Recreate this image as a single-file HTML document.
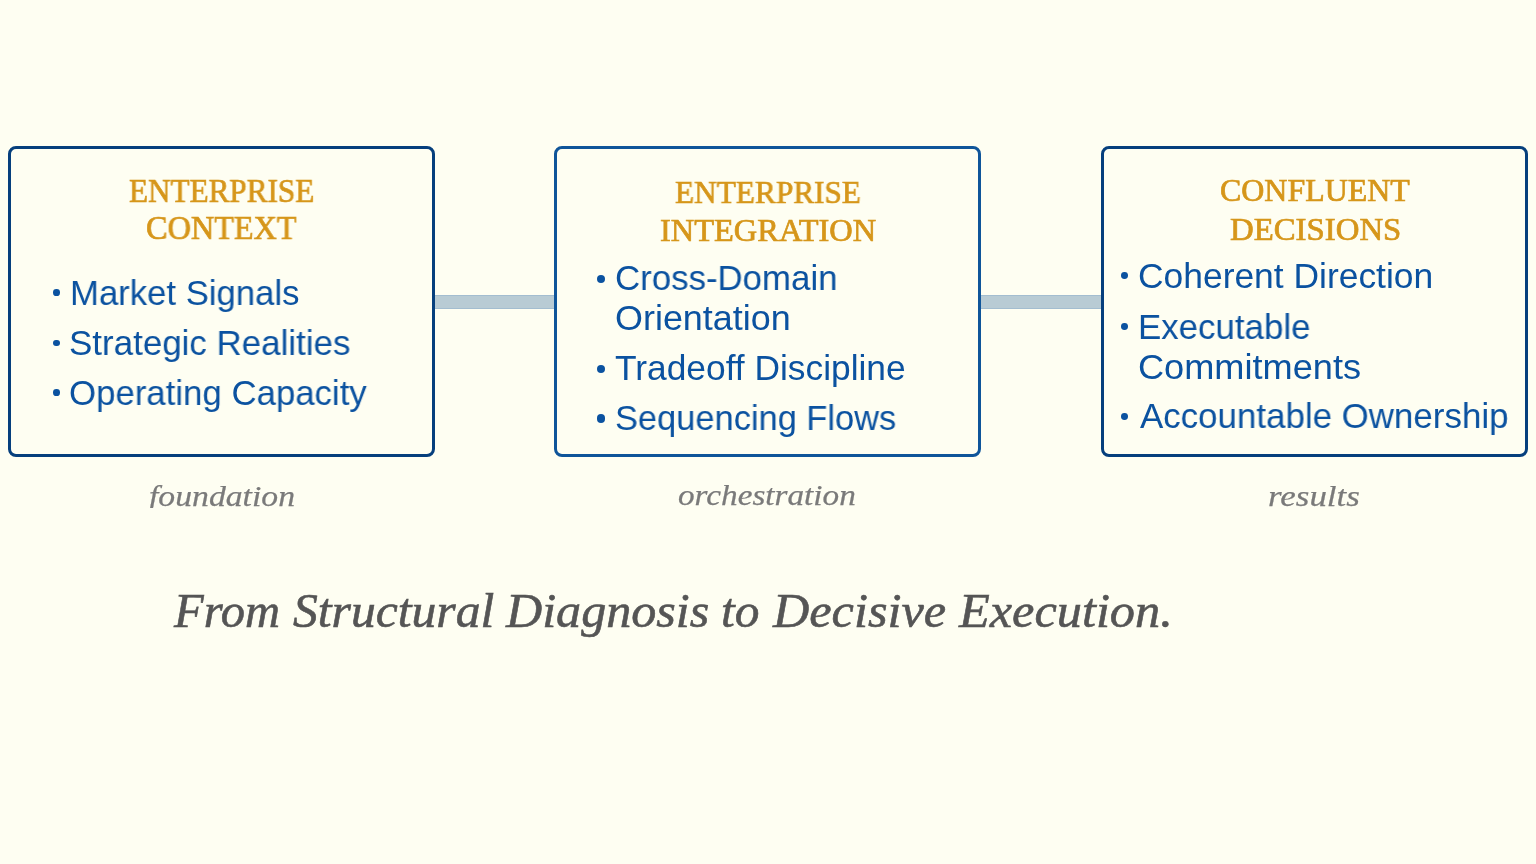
<!DOCTYPE html>
<html><head><meta charset="utf-8"><title>Enterprise Flow</title><style>
html,body{margin:0;padding:0;}
body{width:1536px;height:864px;background:#fefef2;position:relative;overflow:hidden;}
.box{position:absolute;top:146px;width:420.67px;height:305px;border:3px solid #063f7d;border-radius:8px;box-sizing:content-box;}
.b2{border-color:#0f559a;}
.bar{position:absolute;top:295px;height:12px;background:#b8cbd4;border-top:1px solid #a3bdd0;border-bottom:1px solid #a3bdd0;}
.dot{position:absolute;border-radius:50%;background:#0b52a0;}
.t{position:absolute;white-space:nowrap;transform-origin:0 0;margin:0;padding:0;will-change:transform;}
</style></head>
<body>
<div class="bar" style="left:435px;width:119px"></div>
<div class="bar" style="left:981px;width:120px"></div>
<div class="box" style="left:8px"></div>
<div class="box b2" style="left:554.33px"></div>
<div class="box" style="left:1101px"></div>
<div class="dot" style="left:53.15px;top:289.35px;width:6.7px;height:6.7px"></div>
<div class="dot" style="left:53.15px;top:339.65px;width:6.7px;height:6.7px"></div>
<div class="dot" style="left:53.15px;top:389.35px;width:6.7px;height:6.7px"></div>
<div class="dot" style="left:597.05px;top:274.85px;width:8.3px;height:8.3px"></div>
<div class="dot" style="left:597.05px;top:364.85px;width:8.3px;height:8.3px"></div>
<div class="dot" style="left:597.05px;top:414.45px;width:8.3px;height:8.3px"></div>
<div class="dot" style="left:1121.30px;top:272.40px;width:6.8px;height:6.8px"></div>
<div class="dot" style="left:1121.30px;top:323.30px;width:6.8px;height:6.8px"></div>
<div class="dot" style="left:1121.30px;top:412.80px;width:6.8px;height:6.8px"></div>
<div class="t" style="left:128.98px;top:170.84px;font-family:'Liberation Serif', serif;font-weight:normal;font-style:normal;font-size:33.18px;line-height:39.818px;color:#d6961a;transform:scaleX(0.9394);-webkit-text-stroke:0.7px #d6961a;">ENTERPRISE</div>
<div class="t" style="left:146.23px;top:209.32px;font-family:'Liberation Serif', serif;font-weight:normal;font-style:normal;font-size:32.88px;line-height:39.455px;color:#d6961a;transform:scaleX(0.9821);-webkit-text-stroke:0.7px #d6961a;">CONTEXT</div>
<div class="t" style="left:674.97px;top:173.45px;font-family:'Liberation Serif', serif;font-weight:normal;font-style:normal;font-size:32.42px;line-height:38.909px;color:#d6961a;transform:scaleX(0.9656);-webkit-text-stroke:0.7px #d6961a;">ENTERPRISE</div>
<div class="t" style="left:659.83px;top:212.20px;font-family:'Liberation Serif', serif;font-weight:normal;font-style:normal;font-size:31.94px;line-height:38.328px;color:#d6961a;transform:scaleX(1.0154);-webkit-text-stroke:0.7px #d6961a;">INTEGRATION</div>
<div class="t" style="left:1219.74px;top:171.81px;font-family:'Liberation Serif', serif;font-weight:normal;font-style:normal;font-size:31.82px;line-height:38.182px;color:#d6961a;transform:scaleX(1.0035);-webkit-text-stroke:0.7px #d6961a;">CONFLUENT</div>
<div class="t" style="left:1229.64px;top:209.83px;font-family:'Liberation Serif', serif;font-weight:normal;font-style:normal;font-size:32.12px;line-height:38.545px;color:#d6961a;transform:scaleX(1.0216);-webkit-text-stroke:0.7px #d6961a;">DECISIONS</div>
<div class="t" style="left:69.82px;top:272.35px;font-family:'Liberation Sans', sans-serif;font-weight:normal;font-style:normal;font-size:35.00px;line-height:42.000px;color:#0b52a0;transform:scaleX(0.9912);-webkit-text-stroke:0.0px #0b52a0;">Market Signals</div>
<div class="t" style="left:69.25px;top:322.15px;font-family:'Liberation Sans', sans-serif;font-weight:normal;font-style:normal;font-size:35.00px;line-height:42.000px;color:#0b52a0;transform:scaleX(0.9980);-webkit-text-stroke:0.0px #0b52a0;">Strategic Realities</div>
<div class="t" style="left:69.26px;top:371.95px;font-family:'Liberation Sans', sans-serif;font-weight:normal;font-style:normal;font-size:35.00px;line-height:42.000px;color:#0b52a0;transform:scaleX(0.9938);-webkit-text-stroke:0.0px #0b52a0;">Operating Capacity</div>
<div class="t" style="left:615.26px;top:257.35px;font-family:'Liberation Sans', sans-serif;font-weight:normal;font-style:normal;font-size:35.00px;line-height:42.000px;color:#0b52a0;transform:scaleX(0.9945);-webkit-text-stroke:0.0px #0b52a0;">Cross-Domain</div>
<div class="t" style="left:615.20px;top:296.55px;font-family:'Liberation Sans', sans-serif;font-weight:normal;font-style:normal;font-size:35.00px;line-height:42.000px;color:#0b52a0;transform:scaleX(1.0263);-webkit-text-stroke:0.0px #0b52a0;">Orientation</div>
<div class="t" style="left:615.29px;top:347.35px;font-family:'Liberation Sans', sans-serif;font-weight:normal;font-style:normal;font-size:35.00px;line-height:42.000px;color:#0b52a0;transform:scaleX(1.0095);-webkit-text-stroke:0.0px #0b52a0;">Tradeoff Discipline</div>
<div class="t" style="left:615.28px;top:397.05px;font-family:'Liberation Sans', sans-serif;font-weight:normal;font-style:normal;font-size:35.00px;line-height:42.000px;color:#0b52a0;transform:scaleX(0.9832);-webkit-text-stroke:0.0px #0b52a0;">Sequencing Flows</div>
<div class="t" style="left:1137.73px;top:254.85px;font-family:'Liberation Sans', sans-serif;font-weight:normal;font-style:normal;font-size:35.00px;line-height:42.000px;color:#0b52a0;transform:scaleX(1.0115);-webkit-text-stroke:0.0px #0b52a0;">Coherent Direction</div>
<div class="t" style="left:1138.21px;top:305.75px;font-family:'Liberation Sans', sans-serif;font-weight:normal;font-style:normal;font-size:35.00px;line-height:42.000px;color:#0b52a0;transform:scaleX(0.9959);-webkit-text-stroke:0.0px #0b52a0;">Executable</div>
<div class="t" style="left:1137.69px;top:346.05px;font-family:'Liberation Sans', sans-serif;font-weight:normal;font-style:normal;font-size:35.00px;line-height:42.000px;color:#0b52a0;transform:scaleX(1.0334);-webkit-text-stroke:0.0px #0b52a0;">Commitments</div>
<div class="t" style="left:1139.50px;top:395.25px;font-family:'Liberation Sans', sans-serif;font-weight:normal;font-style:normal;font-size:35.00px;line-height:42.000px;color:#0b52a0;transform:scaleX(0.9967);-webkit-text-stroke:0.0px #0b52a0;">Accountable Ownership</div>
<div class="t" style="left:148.56px;top:478.56px;font-family:'Liberation Serif', serif;font-weight:normal;font-style:italic;font-size:29.72px;line-height:35.662px;color:#7a7a7a;transform:scaleX(1.1337);-webkit-text-stroke:0.25px #7a7a7a;clip-path:inset(0 0 6.82px 0);">foundation</div>
<div class="t" style="left:678.40px;top:478.44px;font-family:'Liberation Serif', serif;font-weight:normal;font-style:italic;font-size:29.42px;line-height:35.304px;color:#7a7a7a;transform:scaleX(1.1298);-webkit-text-stroke:0.25px #7a7a7a;">orchestration</div>
<div class="t" style="left:1268.20px;top:478.70px;font-family:'Liberation Serif', serif;font-weight:normal;font-style:italic;font-size:29.57px;line-height:35.478px;color:#7a7a7a;transform:scaleX(1.1812);-webkit-text-stroke:0.25px #7a7a7a;">results</div>
<div class="t" style="left:174.19px;top:582.43px;font-family:'Liberation Serif', serif;font-weight:normal;font-style:italic;font-size:48.03px;line-height:57.636px;color:#555555;transform:scaleX(1.0102);-webkit-text-stroke:0.6px #555555;">From</div>
<div class="t" style="left:292.90px;top:582.43px;font-family:'Liberation Serif', serif;font-weight:normal;font-style:italic;font-size:48.03px;line-height:57.636px;color:#555555;transform:scaleX(1.0333);-webkit-text-stroke:0.6px #555555;">Structural</div>
<div class="t" style="left:505.70px;top:582.43px;font-family:'Liberation Serif', serif;font-weight:normal;font-style:italic;font-size:48.03px;line-height:57.636px;color:#555555;transform:scaleX(1.0436);-webkit-text-stroke:0.6px #555555;">Diagnosis</div>
<div class="t" style="left:721.02px;top:582.43px;font-family:'Liberation Serif', serif;font-weight:normal;font-style:italic;font-size:48.03px;line-height:57.636px;color:#555555;transform:scaleX(1.0296);-webkit-text-stroke:0.6px #555555;">to</div>
<div class="t" style="left:772.61px;top:582.43px;font-family:'Liberation Serif', serif;font-weight:normal;font-style:italic;font-size:48.03px;line-height:57.636px;color:#555555;transform:scaleX(1.0470);-webkit-text-stroke:0.6px #555555;">Decisive</div>
<div class="t" style="left:959.31px;top:582.43px;font-family:'Liberation Serif', serif;font-weight:normal;font-style:italic;font-size:48.03px;line-height:57.636px;color:#555555;transform:scaleX(1.0480);-webkit-text-stroke:0.6px #555555;">Execution.</div>
</body></html>
